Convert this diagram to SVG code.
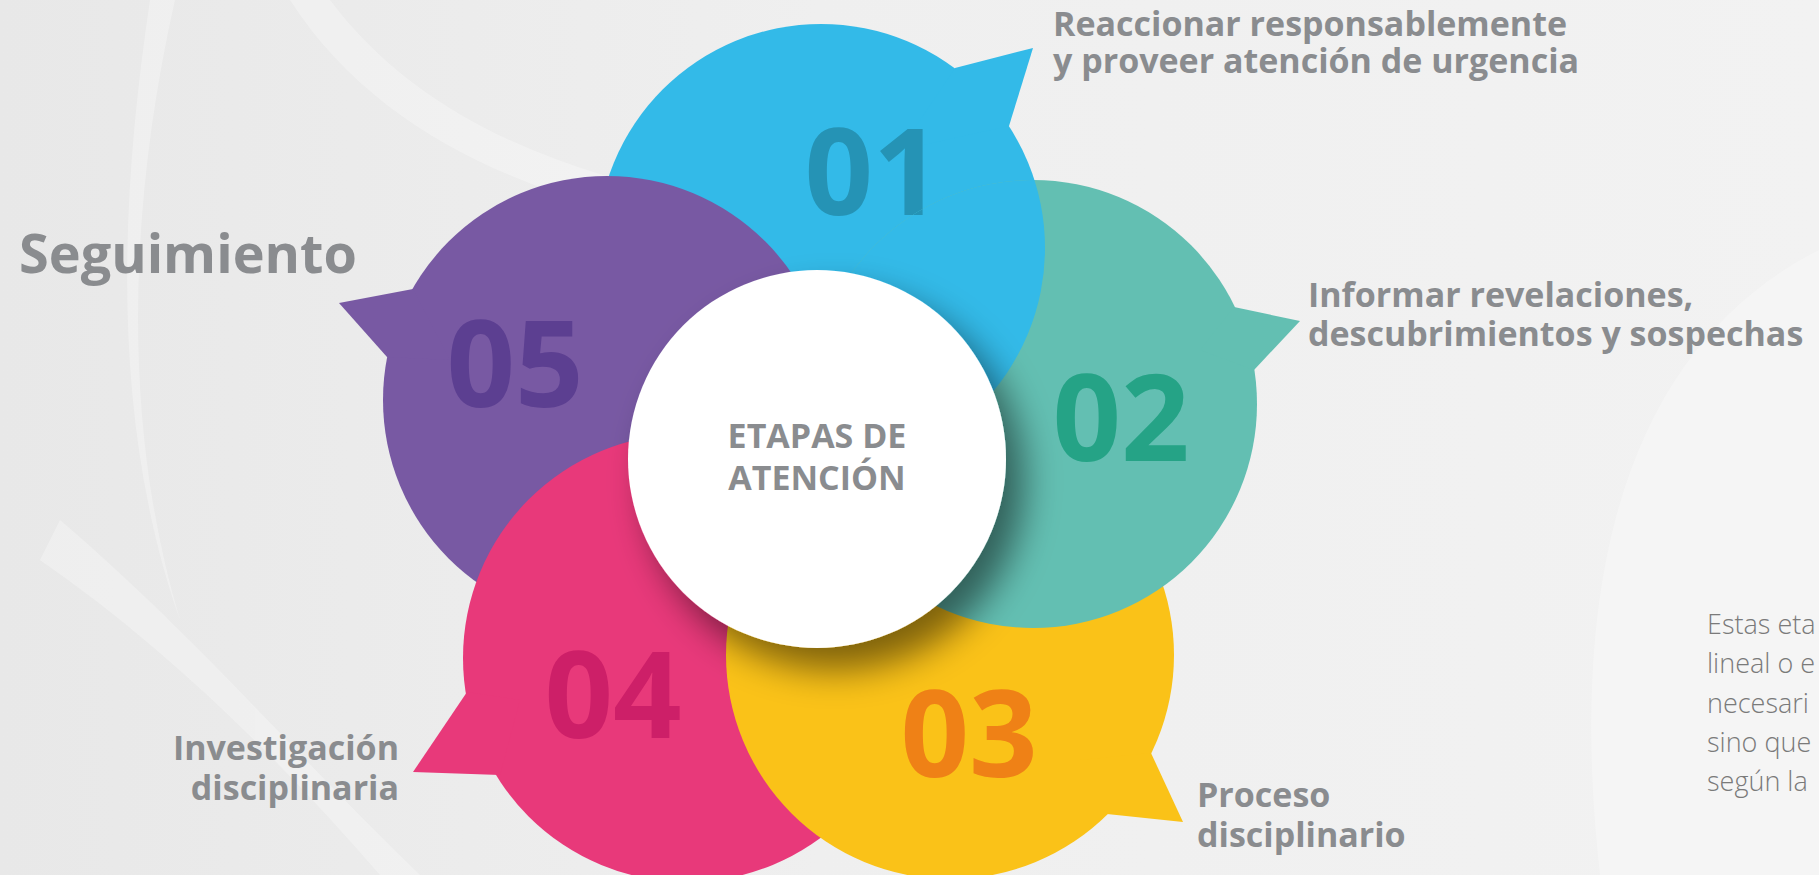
<svg xmlns="http://www.w3.org/2000/svg" xmlns:xlink="http://www.w3.org/1999/xlink" width="1819" height="875" viewBox="0 0 1819 875">
  <defs>
    <linearGradient id="bg" x1="0" y1="0" x2="1" y2="0">
      <stop offset="0" stop-color="#e8e8e8"/>
      <stop offset="0.45" stop-color="#efefef"/>
      <stop offset="1" stop-color="#f2f2f2"/>
    </linearGradient>
    <filter id="shadow" x="-30%" y="-30%" width="170%" height="170%">
      <feGaussianBlur in="SourceAlpha" stdDeviation="18"/>
      <feOffset dx="18" dy="22" result="b"/>
      <feComponentTransfer><feFuncA type="linear" slope="0.5"/></feComponentTransfer>
      <feMerge><feMergeNode/><feMergeNode in="SourceGraphic"/></feMerge>
    </filter>
    <clipPath id="clipTeal"><circle cx="1033" cy="404" r="224"/></clipPath>
    <style>
      .num { font-family: "Open Sans", "Liberation Sans", sans-serif; font-weight: 700; font-size: 120px; text-anchor: middle; }
      .lbl { font-family: "Open Sans", "Liberation Sans", sans-serif; font-weight: 700; font-size: 34px; fill: #8a8c8f; }
      .note { font-family: "Open Sans", "Liberation Sans", sans-serif; font-weight: 300; font-size: 27px; fill: #7a7a7a; }
    </style>
  </defs>

  <rect width="1819" height="875" fill="url(#bg)"/>
  <g fill="#ffffff" opacity="0.28">
    <path d="M330 0 C420 120 560 170 700 200 L700 230 C540 200 380 140 290 0 Z"/>
    <path d="M150 0 C120 200 110 420 180 620 C120 420 130 200 175 0 Z"/>
    <path d="M1819 250 C1660 330 1560 520 1600 875 L1819 875 Z"/>
    <path d="M60 520 C200 640 300 760 420 875 L380 875 C280 760 170 650 40 560 Z"/>
  </g>

  <g id="node-01">
    <circle cx="821" cy="248" r="224" fill="#33bae8"/>
    <polygon points="955,68 1033,48 1009,126 900,150" fill="#33bae8"/>
    <text class="num" x="873" y="215" fill="#2593b5">01</text>
  </g>
  <g id="node-05">
    <circle cx="607" cy="400" r="224" fill="#7859a3"/>
    <polygon points="413,289 339,303 387,357 450,360" fill="#7859a3"/>
    <text class="num" x="515" y="407" fill="#5c3f91">05</text>
  </g>
  <g id="node-04">
    <circle cx="687" cy="658" r="224" fill="#e8397a"/>
    <polygon points="467,692 413,772 500,775 520,700" fill="#e8397a"/>
    <text class="num" x="613" y="738" fill="#cd1f68">04</text>
  </g>
  <g id="node-03">
    <circle cx="950" cy="655" r="224" fill="#fac218"/>
    <polygon points="1151,753 1183,822 1107,814 1080,760" fill="#fac218"/>
    <text class="num" x="969" y="777" fill="#ef8116">03</text>
  </g>
  <g id="node-02">
    <circle cx="1033" cy="404" r="224" fill="#63bfb2"/>
    <polygon points="1234,307 1300,321 1254,370 1200,350" fill="#63bfb2"/>
    <text class="num" x="1121" y="461" fill="#25a386">02</text>
  </g>
  <g clip-path="url(#clipTeal)">
    <use xlink:href="#node-01" href="#node-01"/>
  </g>

  <g id="center">
    <circle cx="817" cy="459" r="189" fill="#ffffff" filter="url(#shadow)"/>
    <text class="lbl" text-anchor="middle"><tspan x="817" y="448">ETAPAS DE</tspan><tspan x="817" y="490">ATENCIÓN</tspan></text>
  </g>

  <g id="labels">
    <text class="lbl"><tspan x="1053" y="36">Reaccionar responsablemente</tspan><tspan x="1053" y="73">y proveer atención de urgencia</tspan></text>
    <text class="lbl"><tspan x="1308" y="307">Informar revelaciones,</tspan><tspan x="1308" y="346">descubrimientos y sospechas</tspan></text>
    <text class="lbl"><tspan x="1197" y="807">Proceso</tspan><tspan x="1197" y="847">disciplinario</tspan></text>
    <text class="lbl" text-anchor="end"><tspan x="399" y="760">Investigación</tspan><tspan x="399" y="800">disciplinaria</tspan></text>
    <text class="lbl" x="19" y="273" style="font-size:54px">Seguimiento</text>
  </g>

  <g id="note">
    <text class="note"><tspan x="1707" y="634">Estas eta</tspan><tspan x="1707" y="673">lineal o e</tspan><tspan x="1707" y="713">necesari</tspan><tspan x="1707" y="752">sino que</tspan><tspan x="1707" y="791">según la</tspan></text>
  </g>
</svg>
